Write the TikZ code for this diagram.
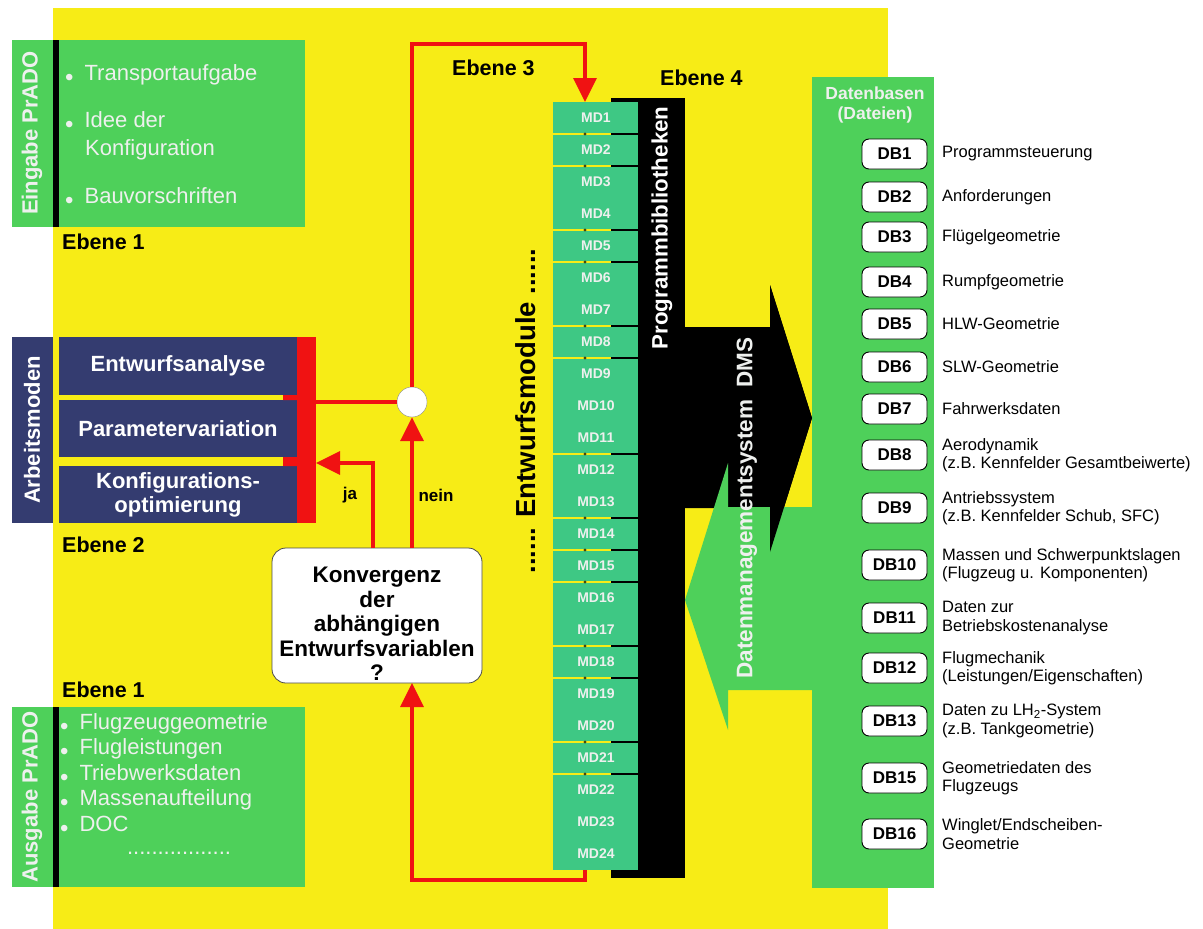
\documentclass[tikz,border=0pt]{standalone}
\usepackage{fontspec}
\setmainfont{Liberation Sans}
\usetikzlibrary{arrows.meta,positioning}
\definecolor{bgyellow}{RGB}{247,236,22}
\definecolor{boxgreen}{RGB}{78,208,90}
\definecolor{mdgreen}{RGB}{62,200,132}
\definecolor{modeblue}{RGB}{52,60,112}
\definecolor{flowred}{RGB}{240,18,18}
\definecolor{paletext}{RGB}{238,240,238}
\newcommand{\fsz}[2]{\fontsize{#1}{#2}\selectfont}
\newcommand{\smallbul}{{\fsz{24}{24}\raisebox{-5pt}{•}}\hspace{11pt}}
\tikzset{
  panel/.style={inner sep=0pt, outer sep=0pt, anchor=north west},
  vlabel/.style={rotate=90, inner sep=0pt, text=paletext, font=\bfseries\fsz{22}{26}},
  item/.style={anchor=west, inner sep=0pt, text=paletext, font=\fsz{22}{26}},
  modebox/.style={panel, fill=modeblue, minimum width=238pt, text=white, align=center, font=\bfseries\fsz{22}{24}},
  level/.style={anchor=west, inner sep=0pt, font=\bfseries\fsz{21.5}{24}},
  mdlabel/.style={inner sep=0pt, text=paletext, font=\bfseries\fsz{14}{16}},
  dbbox/.style={draw=black, line width=0.9pt, fill=white, rounded corners=7pt, minimum width=65pt, minimum height=30pt, inner sep=0pt, font=\bfseries\fsz{17}{20}},
  dbtext/.style={anchor=west, align=left, inner sep=0pt, font=\fsz{16.5}{18.5}},
  flow/.style={draw=flowred, line width=3.5pt},
  flowarrow/.style={flow, -{Triangle[width=23pt,length=24pt]}}
}
\begin{document}
\begin{tikzpicture}[x=1pt,y=-1pt]
  \useasboundingbox (0,0) rectangle (1203,929);
  \fill[white] (0,0) rectangle (1203,929);
  \fill[bgyellow] (53,8) rectangle (888,929);

  % Ebene 1: Eingabe
  \node[panel, fill=boxgreen, minimum width=293pt, minimum height=187pt] (eingabe) at (12,40) {};
  \fill[black] (53,40) rectangle (59,227);
  \node[vlabel] (eingabelbl) at (32,133) {Eingabe PrADO};
  \node[item] (in1) at (65,75) {\smallbul Transportaufgabe};
  \node[item] (in2) at (65,122) {\smallbul Idee der};
  \node[item] (in2b) at (85,150) {Konfiguration};
  \node[item] (in3) at (65,198) {\smallbul Bauvorschriften};
  \node[level] (ebeneA) at (62,242) {Ebene 1};

  % Ebene 2: Arbeitsmoden
  \node[panel, fill=modeblue, minimum width=41pt, minimum height=186pt] (modes) at (12,337) {};
  \node[vlabel, text=white] (modeslbl) at (32,430) {Arbeitsmoden};
  \node[modebox, minimum height=58pt] (entw) at (59,337) {Entwurfsanalyse};
  \node[modebox, minimum height=57pt] (param) at (59,400) {Parametervariation};
  \node[modebox, minimum height=57pt] (konfig) at (59,466) {Konfigurations-\\optimierung};
  \node[panel, fill=flowred, minimum width=19pt, minimum height=186pt] (redbar) at (297,337) {};
  \fill[flowred] (283,395) rectangle (297,400) (283,457) rectangle (297,466);
  \node[level] (ebeneB) at (62,545) {Ebene 2};

  % Konvergenzabfrage
  \node[panel, draw=black!70, fill=white, rounded corners=14pt, line width=0.8pt,
        minimum width=210pt, minimum height=135pt] (konv) at (272,548) {};
  \node[align=center, inner sep=0pt, font=\bfseries\fsz{22.5}{24.5}] (konvtxt) at (377,624)
       {Konvergenz\\der\\abhängigen\\Entwurfsvariablen\\?};
  \node[circle, draw=black!45, fill=white, minimum size=30pt, inner sep=0pt] (junc) at (412,402) {};
  \coordinate (jaturn) at (373,463);
  \coordinate (mdtop) at (500,44);
  \coordinate (mdbot) at (500,880);
  \coordinate (mdin) at (585,102);
  \coordinate (mdout) at (585,870);
  \node[inner sep=0pt, font=\bfseries\fsz{17}{19}] (ja) at (350,495) {ja};
  \node[inner sep=0pt, font=\bfseries\fsz{17}{19}] (nein) at (436,495) {nein};

  % Ebene 1: Ausgabe
  \node[level] (ebeneC) at (62,690) {Ebene 1};
  \node[panel, fill=boxgreen, minimum width=293pt, minimum height=180pt] (ausgabe) at (12,707) {};
  \fill[black] (53,707) rectangle (59,887);
  \node[vlabel] (ausgabelbl) at (32,797) {Ausgabe PrADO};
  \foreach \t [count=\k] in {Flugzeuggeometrie,Flugleistungen,Triebwerksdaten,Massenaufteilung,DOC}
    \node[item] (out\k) at (60,{724+(\k-1)*25.5}) {\smallbul\t};
  \node[item, anchor=center] (outdots) at (179,853) {.................};

  % Ebene 3 und 4: Module und Bibliotheken
  \node[level] (ebeneD) at (452,68) {Ebene 3};
  \node[level] (ebeneE) at (660,78) {Ebene 4};
  \node[panel, fill=black, minimum width=74pt, minimum height=780pt] (progbib) at (611,98) {};
  \node[panel, fill=mdgreen, minimum width=85pt, minimum height=768pt] (mdcol) at (553,102) {};
  \foreach \i in {1,2,4,5,7,8,11,13,14,15,17,18,20,21} {
    \draw[bgyellow, line width=2pt] (553,{134+(\i-1)*32}) -- (611,{134+(\i-1)*32});
    \draw[black, line width=2pt] (611,{134+(\i-1)*32}) -- (638,{134+(\i-1)*32});
    \fill[black!70!bgyellow] (585,{134+(\i-1)*32}) circle (1.6);
  }
  \foreach \i in {1,...,24}
    \node[mdlabel] (md\i) at (596,{118+(\i-1)*32}) {MD\i};
  \node[rotate=90, inner sep=0pt, text=white, font=\bfseries\fsz{22.3}{26}] (progbiblbl) at (662,228) {Programmbibliotheken};
  \node[rotate=90, inner sep=0pt, font=\bfseries\fsz{27.5}{30}] (modlbl) at (526,411) {...... Entwurfsmodule ......};

  % Datenbasen
  \node[panel, fill=boxgreen, minimum width=122pt, minimum height=811pt] (dbcol) at (812,77) {};
  \fill[black] (685,327) -- (770,327) -- (770,285) -- (812,418) -- (770,552) -- (770,508) -- (685,508) -- cycle;
  \fill[boxgreen] (812,507) -- (728,507) -- (728,463) -- (685,600) -- (728,730) -- (728,690) -- (812,690) -- cycle;
  \fill[black] (770,285) -- (812,418) -- (770,552) -- cycle;
  \node[rotate=90, inner sep=0pt, text=paletext, font=\bfseries\fsz{22.5}{26}] (dmslbl) at (747,508) {Datenmanagementsystem\ \ DMS};
  \node[align=center, inner sep=0pt, text=paletext, font=\bfseries\fsz{17.5}{20}] (dbhead) at (875,105) {Datenbasen\\(Dateien)};
  \foreach \n/\y/\txt in {
      DB1/154/{Programmsteuerung},
      DB2/197/{Anforderungen},
      DB3/237/{Flügelgeometrie},
      DB4/282/{Rumpfgeometrie},
      DB5/324/{HLW-Geometrie},
      DB6/367/{SLW-Geometrie},
      DB7/409/{Fahrwerksdaten},
      DB8/455/{Aerodynamik\\(z.B. Kennfelder Gesamtbeiwerte)},
      DB9/508/{Antriebssystem\\(z.B. Kennfelder Schub, SFC)},
      DB10/565/{Massen und Schwerpunktslagen\\(Flugzeug u. Komponenten)},
      DB11/618/{Daten zur\\Betriebskostenanalyse},
      DB12/668/{Flugmechanik\\(Leistungen/Eigenschaften)},
      DB13/721/{Daten zu LH\textsubscript{2}-System\\(z.B. Tankgeometrie)},
      DB15/778/{Geometriedaten des\\Flugzeugs},
      DB16/834/{Winglet/Endscheiben-\\Geometrie}} {
    \node[dbbox] (\n) at (894.5,\y) {\n};
    \node[dbtext] (\n-txt) at (942,\y) {\txt};
  }

  % Rueckfuehrungen
  \draw[flow] (junc.west) -- (redbar.east |- junc.west);
  \draw[flowarrow] (junc.north) |- (mdtop) -| (mdin);
  \draw[flowarrow] (konv.north -| junc) -- (junc.south);
  \draw[flowarrow] (konv.north -| jaturn) |- (redbar.east |- jaturn);
  \draw[flowarrow] (mdout) |- (mdbot) -| (konv.south -| junc);
\end{tikzpicture}
\end{document}
